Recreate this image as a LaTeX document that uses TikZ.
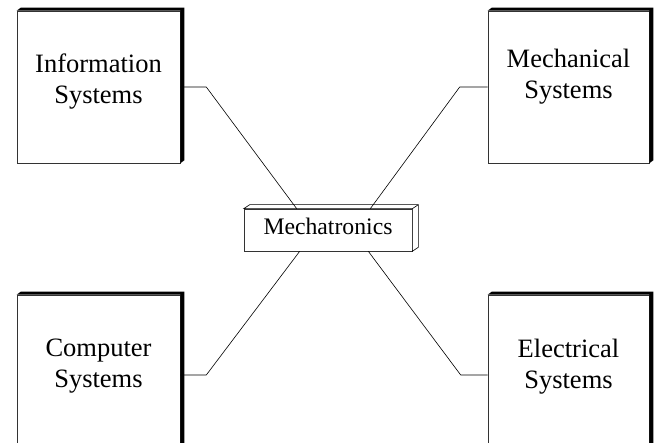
\documentclass[tikz,border=0pt]{standalone}
\usepackage{fontspec}
\setmainfont{Liberation Serif}
\usetikzlibrary{calc}
\newcommand{\bloque}[1]{
  \fill (#1.north west) -- ++(4pt,3pt) -| ($(#1.south east)+(4pt,3pt)$)
    -- (#1.south east) -- (#1.north east) -- cycle;
}
\newcommand{\ladrillo}[1]{
  \filldraw[fill=white] (#1.north west) -- ++(6pt,4pt) -| ($(#1.south east)+(6pt,4pt)$)
    -- (#1.south east) -- (#1.north east) -- cycle;
  \draw (#1.north east) -- ++(6pt,4pt);
}
\tikzset{
  sistema/.style={draw=black!80, line width=0.6pt, fill=white, align=center,
    inner sep=0pt, font=\fontsize{26.5}{31}\selectfont},
  nucleo/.style={draw=black!80, line width=0.6pt, fill=white, inner sep=0pt,
    minimum width=168pt, minimum height=42pt, text depth=8pt,
    font=\fontsize{23.7}{28}\selectfont}
}

\begin{document}
\begin{tikzpicture}[x=1pt,y=-1pt,line width=0.6pt]
  \clip (0,0) rectangle (657,443);
  \node[sistema, minimum width=163pt, minimum height=152pt, text depth=17pt] (info) at (98.5,87)  {Information\\Systems};
  \node[sistema, minimum width=161pt, minimum height=152pt, text depth=27pt] (mech) at (568.5,87) {Mechanical\\Systems};
  \node[sistema, minimum width=163pt, minimum height=160pt, text depth=23pt] (comp) at (98.5,375) {Computer\\Systems};
  \node[sistema, minimum width=161pt, minimum height=160pt, text depth=22pt] (elec) at (568.5,375) {Electrical\\Systems};
  \node[nucleo] (mecha) at (328,230) {Mechatronics};
  \bloque{info}
  \bloque{mech}
  \bloque{comp}
  \bloque{elec}
  \ladrillo{mecha}
  \draw (info.east) -- ++(26,0) -- ($(mecha.north west)+(53,0)$);
  \draw (mech.west) -- ++(-28,0) -- ($(mecha.north east)+(-42,0)$);
  \draw (comp.east) -- ++(26,0) -- ($(mecha.south west)+(56,0)$);
  \draw (elec.west) -- ++(-27,0) -- ($(mecha.south east)+(-44,0)$);
\end{tikzpicture}
\end{document}
